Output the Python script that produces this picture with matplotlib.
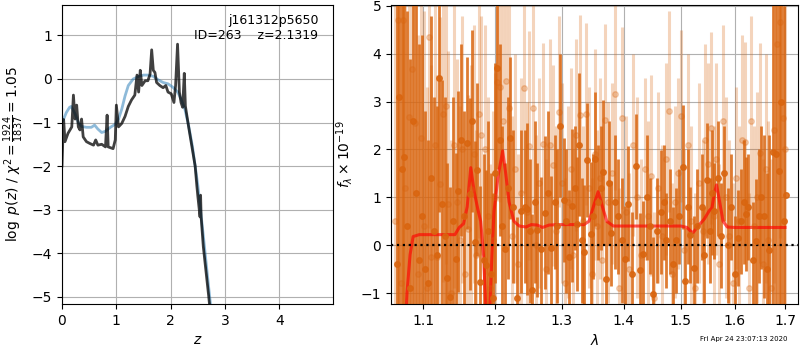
import numpy as np
import matplotlib
matplotlib.use('Agg')
import matplotlib.pyplot as plt

# --- p(z) panel ---
z_dark = [0.0, 0.02, 0.03, 0.055, 0.11, 0.18, 0.21, 0.24, 0.27, 0.30,
          0.33, 0.36, 0.39, 0.45, 0.51, 0.58, 0.62, 0.66, 0.73, 0.80,
          0.83, 0.85, 0.94, 0.98, 1.0, 1.04, 1.10, 1.16, 1.22, 1.28,
          1.34, 1.38, 1.41, 1.44, 1.47, 1.53, 1.58, 1.62, 1.65, 1.68,
          1.71, 1.74, 1.80, 1.86, 1.91, 1.95, 2.01, 2.06, 2.09, 2.126,
          2.16, 2.19, 2.22, 2.25, 2.27, 2.33, 2.39, 2.45, 2.48, 2.50,
          2.54, 2.55, 2.56, 2.60, 2.64, 2.70, 2.74]
logp_dark = [-2.0, -1.2, -0.93, -1.44, -1.25, -1.1, -0.37, -0.92, -0.6, -1.1,
             -1.17, -0.92, -1.33, -1.44, -1.48, -1.52, -1.4, -1.52, -1.5, -1.56,
             -0.83, -1.56, -1.6, -1.4, -0.6, -1.1, -1.02, -0.86, -0.63, -0.48,
             -0.37, 0.09, -0.3, 0.2, -0.15, -0.04, -0.04, 0.11, 0.67, 0.2,
             0.15, -0.08, -0.15, -0.2, -0.15, -0.3, -0.34, -0.54, -0.15, 0.80,
             -0.3, -0.54, -0.65, 0.13, -0.62, -1.1, -1.55, -2.0, -2.44, -2.7,
             -3.17, -2.67, -3.17, -3.85, -4.31, -5.0, -5.5]

z_blue = [0.02, 0.08, 0.14, 0.17, 0.24, 0.30, 0.36, 0.45, 0.54, 0.60,
          0.66, 0.73, 0.80, 0.89, 0.98, 1.04, 1.10, 1.16, 1.22, 1.31,
          1.41, 1.50, 1.59, 1.68, 1.77, 1.86, 1.95, 2.04, 2.13, 2.19,
          2.26, 2.33, 2.40, 2.50, 2.60, 2.70, 2.76]
logp_blue = [-0.95, -0.77, -0.65, -0.63, -0.8, -1.0, -1.09, -1.11, -1.11, -1.06,
             -1.15, -1.23, -1.2, -1.11, -1.04, -0.92, -0.69, -0.39, -0.15, 0.0,
             0.06, 0.09, 0.09, 0.06, -0.02, -0.08, -0.11, -0.19, -0.3, -0.46,
             -0.69, -1.07, -1.55, -2.45, -3.6, -4.8, -5.5]

# --- spectrum panel: first beam (dark) ---
wave_a = [1.066, 1.069, 1.072, 1.075, 1.079, 1.083, 1.087, 1.091, 1.095, 1.099,
          1.103, 1.107, 1.111, 1.115, 1.119, 1.122, 1.126, 1.129, 1.132, 1.136, 1.140, 1.144,
          1.147, 1.151, 1.155, 1.160, 1.164, 1.167, 1.171, 1.174, 1.178, 1.183, 1.187, 1.190, 1.193, 1.197,
          1.200, 1.203, 1.206, 1.210, 1.214, 1.218, 1.221, 1.226, 1.231,
          1.237, 1.243, 1.247, 1.251, 1.254, 1.259, 1.262, 1.268, 1.274, 1.278,
          1.283, 1.289, 1.293, 1.297, 1.303, 1.307, 1.311, 1.316, 1.320, 1.324,
          1.327, 1.331, 1.335, 1.340, 1.346, 1.349, 1.353, 1.358, 1.362, 1.366,
          1.370, 1.375, 1.379, 1.385, 1.391, 1.397, 1.403, 1.408, 1.414, 1.421,
          1.428, 1.433, 1.440, 1.445, 1.451, 1.458, 1.465, 1.470, 1.474, 1.480,
          1.486, 1.491, 1.497, 1.504, 1.508, 1.513, 1.517, 1.523, 1.530, 1.538,
          1.542, 1.547, 1.553, 1.557, 1.561, 1.568, 1.575, 1.580, 1.588, 1.594,
          1.600, 1.606, 1.612, 1.619, 1.623, 1.627, 1.635, 1.642, 1.647, 1.652,
          1.658, 1.663, 1.668,
          1.675, 1.682, 1.687, 1.692, 1.697, 1.703]
flux_a = [-0.4, 3.1, 1.59, 1.85, 0.4, -0.9, 2.6, 1.1, -0.3, 0.6,
          -0.5, -0.8, 1.4, 0.3, -0.2, 3.5, 0.86, 0.2, -0.68, -1.08, 0.5, -0.28,
          1.13, 2.2, 0.6, 2.13, 1.07, 2.6, 0.07, 1.58, -0.77, -0.3, -0.42, 0.3, -0.6, -1.1,
          1.5, 3.7, 2.2, 0.4, -0.09, 1.2, 2.24, 0.8, -1.11,
          0.71, 0.8, 0.75, 0.3, -0.94, 0.9, 0.31, -0.07, 0.68, 1.1,
          -0.06, 0.9, 0.4, 2.5, 0.94, 0.5, -0.24, 0.82, 1.2, 0.44,
          2.1, 0.1, -0.15, 1.78, 0.23, 0.6, 1.8, 0.9, 1.2, 1.53,
          -0.7, 1.3, 0.25, 0.9, 0.6, 0.1, -0.28, 0.87, -0.6, 1.65,
          -0.52, -0.18, 1.0, 0.4, -1.03, 0.3, 0.69, 0.9, 0.1, 0.5,
          -0.4, 0.1, 0.6, 1.64, -0.75, 0.8, 0.21, -0.48, 0.4, 0.8,
          -0.2, 1.36, 0.3, 1.1, 0.72, 1.4, 0.2, 1.5, 0.0, 0.8,
          -0.6, 0.15, 0.5, 0.9, 0.65, 0.8, -0.3, 0.08, 0.6, 1.0,
          0.6, -0.5, -0.1,
          1.95, 1.9, 1.55, 3.0, 0.5, 1.05]
err_a = [5.5, 5.0, 5.5, 5.0, 4.5, 4.8, 4.2, 4.0, 4.5, 3.8,
         3.3, 3.0, 3.4, 2.8, 3.1, 2.8, 2.6, 2.9, 2.4, 2.3, 2.6, 2.2,
         2.1, 2.0, 2.2, 1.8, 2.0, 1.9, 2.1, 1.8, 2.0, 2.2, 2.0, 2.3, 2.1, 2.2,
         2.3, 2.1, 2.0, 2.1, 1.8, 1.9, 1.7, 1.6, 1.7,
         1.7, 1.6, 1.8, 1.5, 1.6, 1.7, 1.4, 1.5, 1.6, 1.7,
         1.5, 1.4, 1.6, 1.5, 1.3, 1.5, 1.4, 1.6, 1.3, 1.4,
         1.5, 1.3, 1.4, 1.2, 1.5, 1.3, 1.4, 1.2, 1.3, 1.5,
         1.2, 1.3, 1.1, 1.4, 1.2, 1.3, 1.1, 1.2, 1.3, 1.1,
         1.2, 1.1, 1.3, 1.0, 1.2, 1.1, 1.3, 1.2, 1.0, 1.1,
         1.2, 1.1, 1.0, 1.3, 1.1, 1.2, 1.0, 1.1, 1.2, 1.1,
         1.0, 1.2, 1.1, 1.3, 1.0, 1.2, 1.1, 1.0, 1.2, 1.1,
         1.2, 1.0, 1.1, 1.3, 1.2, 1.1, 1.2, 1.3, 1.4, 1.5,
         1.7, 2.0, 2.4,
         3.8, 4.2, 4.5, 4.8, 4.5, 0.0]

# --- spectrum panel: second beam (light) ---
wave_b = [1.064, 1.068, 1.071, 1.074, 1.077, 1.081, 1.085, 1.089, 1.093, 1.097,
          1.101, 1.105, 1.108, 1.111, 1.116, 1.119, 1.123, 1.127, 1.131, 1.134,
          1.138, 1.142, 1.146, 1.150, 1.153, 1.157, 1.161, 1.166, 1.169, 1.173,
          1.176, 1.180, 1.185, 1.189, 1.192, 1.196, 1.199, 1.203, 1.207, 1.211,
          1.216, 1.220, 1.224, 1.228, 1.233, 1.238, 1.242, 1.246, 1.250, 1.256,
          1.260, 1.265, 1.271, 1.276, 1.281, 1.286, 1.291, 1.296, 1.300, 1.305,
          1.309, 1.314, 1.318, 1.322, 1.329, 1.333, 1.338, 1.343, 1.348, 1.352,
          1.356, 1.361, 1.365, 1.369, 1.374, 1.380, 1.386, 1.392, 1.398, 1.404,
          1.410, 1.416, 1.423, 1.430, 1.436, 1.442, 1.447, 1.453, 1.460, 1.467,
          1.473, 1.479, 1.484, 1.489, 1.495, 1.500, 1.506, 1.512, 1.519, 1.526,
          1.533, 1.540, 1.545, 1.550, 1.555, 1.560, 1.565, 1.571, 1.578, 1.584,
          1.590, 1.597, 1.603, 1.609, 1.615, 1.621, 1.628, 1.632, 1.638, 1.644,
          1.650, 1.656, 1.661, 1.666, 1.671, 1.678, 1.684, 1.690, 1.695, 1.700]
flux_b = [0.5, 4.7, -0.8, 4.7, 1.2, 2.68, 3.68, 2.55, -0.6, 2.25,
          0.4, -0.9, 4.35, -0.24, 2.1, -0.24, 1.27, 2.74, 2.9, 0.86,
          -1.0, 2.1, 0.9, 0.11, 2.0, -0.6, 0.34, 1.17, 1.9, -0.2,
          2.75, 2.3, 2.0, 0.6, -0.9, 0.1, 1.0, 3.42, 3.3, 2.6,
          3.44, 2.87, 0.2, 1.6, -0.4, 1.1, 3.28, 0.7, 2.08, 2.87,
          0.0, 1.3, 2.12, -0.5, 2.1, 1.67, 0.3, 2.79, 1.3, -0.8,
          0.9, 1.6, -0.2, 2.3, 2.72, 0.5, 2.75, 1.2, -0.6, 1.9,
          0.4, 1.4, -0.3, 2.62, 0.9, 1.5, 3.15, -0.9, 2.65, 0.7,
          -0.5, 2.09, 1.0, -0.2, 1.6, 0.6, 1.45, -1.1, 1.2, 0.2,
          1.8, 2.8, -0.6, 0.9, 1.5, 2.7, -0.1, 2.1, 0.5, -0.9,
          1.3, 0.3, 2.2, 1.7, 2.45, 0.6, 1.8, -0.4, 2.6, 1.0,
          0.2, -0.8, 1.4, 0.5, 2.2, 2.15, -0.9, 2.6, 0.4, 1.0,
          1.93, -0.4, 1.6, 0.1, -0.9, 2.4, 4.2, 4.66, 2.65, 2.0]
err_b = [6, 6, 6, 6, 5.5, 5.5, 5, 5, 5, 4.5,
         4.5, 4.2, 4, 4, 3.8, 3.8, 3.5, 3.5, 3.3, 3.2,
         3.2, 3.0, 3.0, 2.8, 2.8, 2.7, 2.8, 2.6, 2.7, 2.6,
         2.6, 2.5, 2.6, 2.5, 2.6, 2.7, 2.6, 2.5, 2.4, 2.6,
         2.4, 2.3, 2.5, 2.4, 2.3, 2.4, 2.2, 2.3, 2.4, 2.2,
         2.3, 2.2, 2.1, 2.3, 2.2, 2.1, 2.2, 2.0, 2.1, 2.2,
         2.0, 2.1, 2.2, 2.0, 2.1, 2.0, 1.9, 2.1, 2.0, 2.2,
         2.0, 2.1, 1.9, 2.0, 2.1, 1.9, 2.0, 2.1, 1.9, 2.0,
         2.0, 1.9, 2.1, 2.0, 1.9, 2.0, 2.1, 1.8, 2.0, 1.9,
         2.0, 2.1, 1.9, 2.0, 2.0, 1.8, 2.1, 1.9, 2.0, 2.0,
         2.1, 1.9, 2.0, 2.1, 2.0, 1.9, 2.0, 2.1, 2.0, 2.1,
         2.0, 2.1, 1.9, 2.0, 2.2, 2.1, 2.0, 2.2, 2.1, 2.2,
         2.3, 2.2, 2.4, 2.5, 2.7, 3.2, 3.8, 4.5, 5.0, 5.5]

# best-fit model
model_wave = [1.076, 1.079, 1.083, 1.087, 1.095, 1.110, 1.130, 1.143, 1.149, 1.155,
              1.160, 1.165, 1.170, 1.175, 1.179, 1.183, 1.186, 1.189, 1.192, 1.195,
              1.198, 1.204, 1.2106, 1.215, 1.220, 1.227, 1.235, 1.245, 1.253, 1.262,
              1.270, 1.280, 1.295, 1.315, 1.335, 1.343, 1.350, 1.358, 1.365, 1.372,
              1.383, 1.400, 1.450, 1.500, 1.511, 1.517, 1.522, 1.530, 1.543, 1.552,
              1.557, 1.562, 1.5657, 1.570, 1.578, 1.586, 1.600, 1.650, 1.700]
model_flux = [-2.0, -1.0, -0.2, 0.18, 0.22, 0.22, 0.22, 0.22, 0.37, 0.45,
              0.8, 1.62, 1.1, 0.75, 0.5, -0.2, -1.2, -2.2, -1.3, -0.2,
              0.7, 1.45, 1.97, 1.5, 0.9, 0.5, 0.40, 0.38, 0.43, 0.42,
              0.37, 0.42, 0.43, 0.43, 0.43, 0.5, 0.8, 1.12, 0.8, 0.5,
              0.40, 0.40, 0.40, 0.40, 0.37, 0.30, 0.26, 0.38, 0.55, 0.72,
              0.78, 1.1, 1.26, 1.0, 0.5, 0.38, 0.37, 0.37, 0.37]

xticks = [1.1, 1.2, 1.3, 1.4, 1.5, 1.6, 1.7]
fs = 9

fig = plt.figure(figsize=(8, 3.5), dpi=100)

ax = fig.add_axes([0.0775, 0.1314, 0.339, 0.8543])
ax.plot(z_blue, logp_blue, color='#1f77b4', alpha=0.5, lw=2)
ax.plot(z_dark, logp_dark, color='k', alpha=0.75, lw=2)
ax.set_xlim(0, 4.99)
ax.set_ylim(-5.17, 1.70)
ax.set_xticks([0, 1, 2, 3, 4])
ax.set_yticks([-5, -4, -3, -2, -1, 0, 1])
ax.grid()
ax.set_xlabel('$z$', fontsize=fs + 1)
ax.set_ylabel(r'$\log\ p(z)$' + ' / ' + r'$\chi^2=\frac{1924}{1837}=1.05$', fontsize=fs + 1)
ax.tick_params(labelsize=fs + 1)
ax.text(0.945, 0.97, 'j161312p5650\nID=263    z=2.1319', ha='right', va='top',
        transform=ax.transAxes, fontsize=fs)

bx = fig.add_axes([0.4888, 0.1314, 0.5088, 0.8543])
col = '#d9650f'
bx.errorbar(wave_b, flux_b, yerr=err_b, color=col, alpha=0.28, marker='o', ms=4,
            linestyle='None', elinewidth=2.2)
bx.errorbar(wave_a, flux_a, yerr=err_a, color=col, alpha=0.85, marker='o', ms=4,
            linestyle='None', elinewidth=2.0)
bx.plot(model_wave, model_flux, color='r', alpha=0.65, lw=2.2)
bx.axhline(0, color='k', linestyle=':', lw=1.6)
bx.set_xscale('log')
bx.set_xlim(1.0585, 1.727)
bx.set_ylim(-1.23, 5.02)
bx.set_xticks(xticks)
bx.set_xticklabels([str(t) for t in xticks])
bx.minorticks_off()
bx.grid()
bx.set_xlabel(r'$\lambda$', fontsize=fs + 1)
bx.set_ylabel(r'$f_\lambda\times10^{-19}$', fontsize=fs + 1)
bx.tick_params(labelsize=fs + 1)

fig.text(0.985, 0.022, 'Fri Apr 24 23:07:13 2020', ha='right', va='bottom', fontsize=5)

fig.savefig('out.png', dpi=100)
